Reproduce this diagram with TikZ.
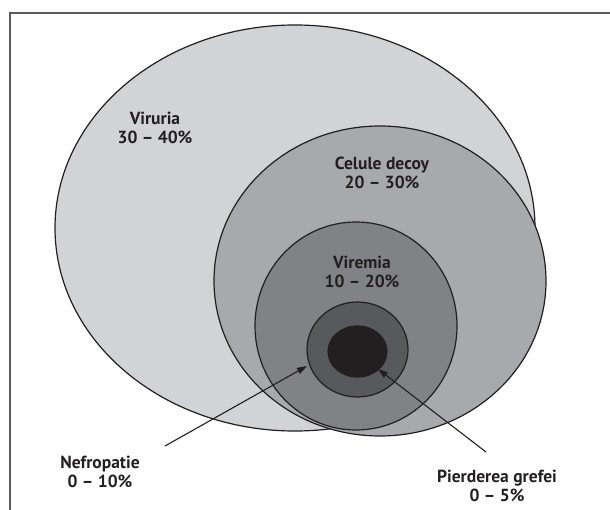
\documentclass[tikz,border=0pt]{standalone}
\usepackage{fontspec}
\setmainfont{PT Sans}
\usetikzlibrary{shapes.geometric,arrows.meta}
\definecolor{ink}{HTML}{231F20}
\definecolor{cA}{HTML}{D1D3D4}
\definecolor{cB}{HTML}{A7A9AC}
\definecolor{cC}{HTML}{808285}
\definecolor{cD}{HTML}{58595B}
\definecolor{framecol}{HTML}{5A5B5D}
\begin{document}
\begin{tikzpicture}[x=1pt,y=-1pt,
  zone/.style={ellipse, draw=ink, line width=1.2pt, inner sep=0pt, outer sep=0pt},
  lbl/.style={text=ink, font=\fontsize{17.5}{19.5}\selectfont\bfseries, align=center, inner sep=0pt},
  arr/.style={draw=ink, line width=1.1pt, -{Triangle[length=10pt,width=6.5pt]}}]
\useasboundingbox (0,0) rectangle (610,510);
\draw[framecol, line width=2pt] (9.5,510) -- (9.5,13.5) -- (610,13.5);
\node[zone, fill=cA, minimum width=480pt, minimum height=406pt] (viruria) at (295,228) {};
\node[zone, fill=cB, minimum width=332pt, minimum height=310pt] (decoy) at (380,281) {};
\node[zone, fill=cC, minimum width=202pt, minimum height=208pt] (viremia) at (356,326) {};
\node[zone, fill=cD, minimum width=101pt, minimum height=95pt] (nefro) at (357.5,349.5) {};
\node[zone, fill=ink, minimum width=59pt, minimum height=51pt] (graft) at (357.5,351.5) {};
\node[lbl] (lviruria) at (155,128) {Viruria\\30 – 40\%};
\node[lbl] (ldecoy) at (382,173) {Celule decoy\\20 – 30\%};
\node[lbl] (lviremia) at (362,272) {Viremia\\10 – 20\%};
\node[lbl] (lnefro) at (100,472) {Nefropatie\\0 – 10\%};
\node[lbl] (lgraft) at (497,486) {Pierderea grefei\\0 – 5\%};
\coordinate (nefTail) at (165,446);
\coordinate (nefTip) at (307,366);
\coordinate (grTail) at (486,452);
\coordinate (grTip) at (378,369);
\draw[arr] (nefTail) -- (nefTip);
\draw[arr] (grTail) -- (grTip);
\end{tikzpicture}
\end{document}
